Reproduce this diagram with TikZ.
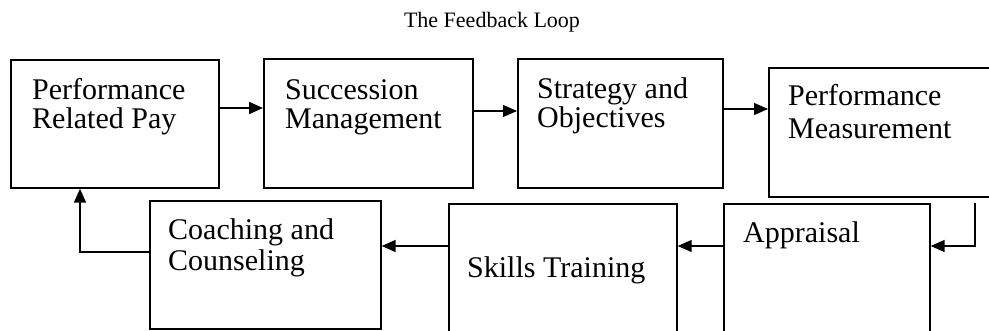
\documentclass[tikz,border=0pt]{standalone}
\usepackage{fontspec}
\setmainfont{Liberation Serif}
\usetikzlibrary{arrows.meta}
\begin{document}
\begin{tikzpicture}[x=1pt,y=-1pt,
  stage/.style={draw, line width=1.7pt, anchor=north west, inner sep=0pt},
  lbl/.style={anchor=base west, inner sep=0pt, font=\fontsize{30}{32}\selectfont, align=left},
  flow/.style={line width=1.7pt, -{Triangle[length=14pt,width=12pt]}},
  thinflow/.style={line width=1.2pt, -{Triangle[length=14pt,width=12pt]}}]
\useasboundingbox (0,0) rectangle (989,331);

\node[anchor=base, inner sep=0pt, font=\fontsize{22}{24}\selectfont] (title) at (492,28) {The Feedback Loop};

% top row
\node[stage, minimum width=208pt, minimum height=128pt] (pay) at (10,59) {};
\node[stage, minimum width=209pt, minimum height=129pt] (succ) at (263,58) {};
\node[stage, minimum width=205pt, minimum height=129pt] (strat) at (517,58) {};
\node[stage, minimum width=240pt, minimum height=129pt] (meas) at (768,67) {};

% bottom row
\node[stage, minimum width=231pt, minimum height=128pt] (coach) at (149,200) {};
\node[stage, minimum width=228pt, minimum height=130pt] (skills) at (448,203) {};
\node[stage, minimum width=206pt, minimum height=130pt] (appr) at (723,203) {};

% labels
\node[lbl] (payA) at (32,100) {Performance};
\node[lbl] (payB) at (32,129) {Related Pay};
\node[lbl] (succA) at (285,100) {Succession};
\node[lbl] (succB) at (285,129) {Management};
\node[lbl] (stratA) at (537,99) {Strategy and};
\node[lbl] (stratB) at (537,128) {Objectives};
\node[lbl] (measA) at (788,106) {Performance};
\node[lbl] (measB) at (788,139) {Measurement};
\node[lbl] (coachA) at (168,240) {Coaching and};
\node[lbl] (coachB) at (168,271) {Counseling};
\node[lbl] (skillsA) at (467,278) {Skills Training};
\node[lbl] (apprA) at (743,243) {Appraisal};

% connectors
\draw[flow] (pay.east |- 0,108) -- (succ.west |- 0,108);
\draw[thinflow] (succ.east |- 0,111) -- (strat.west |- 0,111);
\draw[thinflow] (strat.east |- 0,109) -- (meas.west |- 0,109);
\coordinate (drop) at (975,203);
\draw[flow] (drop) -- (975,246) -- (appr.east |- 0,246);
\draw[thinflow] (appr.west |- 0,246) -- (skills.east |- 0,246);
\draw[flow] (skills.west |- 0,246) -- (coach.east |- 0,246);
\draw[flow] (coach.west |- 0,252) -- (80,252) -- (pay.south -| 80,0);
\end{tikzpicture}
\end{document}
